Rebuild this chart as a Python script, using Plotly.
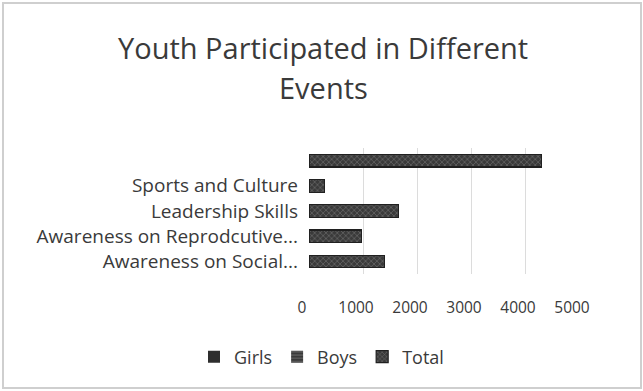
import plotly.graph_objects as go

# Event categories (top row is the overall total, left unlabeled)
categories = ["Awareness on Social...", "Awareness on Reprodcutive...",
              "Leadership Skills", "Sports and Culture", " "]
girls = [None, None, None, None, None]
boys = [None, None, None, None, None]
total = [1400, 970, 1660, 280, 4310]

x_ticks = [0, 1000, 2000, 3000, 4000, 5000]
title_lines = ["Youth Participated in Different", "Events"]

FONT = "Open Sans, sans-serif"
TEXT = "#3a3a3a"

L, R, T, B = 309, 64, 148, 117
PW, PH = 643 - L - R, 391 - T - B

fig = go.Figure()
fig.add_trace(go.Bar(
    y=categories, x=girls, name="Girls", orientation="h",
    marker=dict(color="#2e2e2e", line=dict(width=0)),
))
fig.add_trace(go.Bar(
    y=categories, x=boys, name="Boys", orientation="h",
    marker=dict(color="#3a3a3a", line=dict(width=0),
                pattern=dict(shape="-", fgcolor="#9a9a9a", size=4, solidity=0.3)),
))
fig.add_trace(go.Bar(
    y=categories, x=total, name="Total", orientation="h",
    marker=dict(color="#383838", line=dict(color="#202020", width=1.2),
                pattern=dict(shape="x", fgcolor="#a0a0a0", bgcolor="#3a3a3a",
                             size=4, solidity=0.3)),
))

fig.update_layout(
    width=643, height=391,
    barmode="stack", bargap=0.5,
    paper_bgcolor="white", plot_bgcolor="white",
    margin=dict(l=L, r=R, t=T, b=B),
    font=dict(family=FONT, color=TEXT, size=16),
    xaxis=dict(range=[0, 5000], tickvals=x_ticks, showgrid=True,
               gridcolor="#dcdcdc", gridwidth=1, zeroline=False,
               showline=False, ticks="", tickfont=dict(size=15.5, color=TEXT),
               ticklabelstandoff=22, ticklabelshift=-7),
    yaxis=dict(showgrid=False, showline=False, ticks="", ticklen=0,
               tickfont=dict(size=19, color=TEXT), automargin=False,
               ticklabelstandoff=10),
    legend=dict(orientation="h", x=0.5, xref="container", xanchor="center",
                y=0.087, yref="container", yanchor="middle",
                font=dict(size=18, color=TEXT), traceorder="normal",
                itemwidth=30),
)

# Two-line chart title
for i, line in enumerate(title_lines):
    fig.add_annotation(text=line, xref="paper", yref="paper",
                       x=(323 - L) / PW, y=1 + (T - (47 + 41 * i)) / PH,
                       xanchor="center", yanchor="middle", showarrow=False,
                       font=dict(family=FONT, size=29, color=TEXT))

# Chart frame
fig.add_shape(type="rect", xref="paper", yref="paper",
              x0=-(L - 3) / PW, x1=1 + (R - 2) / PW,
              y0=-(B - 3) / PH, y1=1 + (T - 3) / PH,
              line=dict(color="#cfcfcf", width=2))

fig.write_html("out.html")
